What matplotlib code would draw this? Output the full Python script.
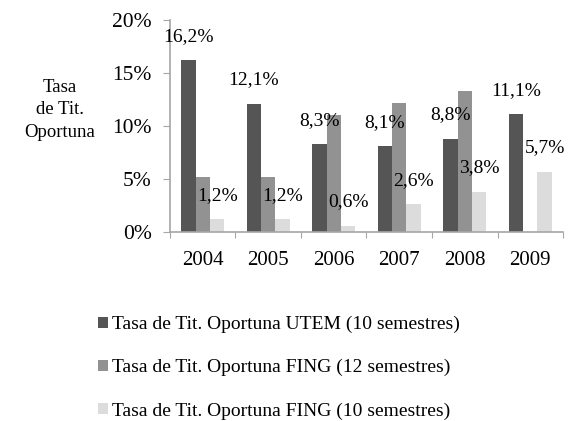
import matplotlib.pyplot as plt
import numpy as np
from matplotlib.ticker import FixedLocator, NullFormatter

years = ["2004", "2005", "2006", "2007", "2008", "2009"]
utem_10 = [16.2, 12.1, 8.3, 8.1, 8.8, 11.1]
fing_12 = [5.2, 5.2, 11.0, 12.2, 13.3, 0.0]
fing_10 = [1.2, 1.2, 0.6, 2.6, 3.8, 5.7]

series_labels = [
    "Tasa de Tit. Oportuna UTEM (10 semestres)",
    "Tasa de Tit. Oportuna FING (12 semestres)",
    "Tasa de Tit. Oportuna FING (10 semestres)",
]
COLORS = ["#555555", "#929292", "#dcdcdc"]
AXIS_COLOR = "#a6a6a6"

plt.rcParams["font.family"] = ["Liberation Serif", "DejaVu Serif"]

fig = plt.figure(figsize=(5.71, 4.21), dpi=100)
ax = fig.add_axes([0.2977, 0.449, 0.6883, 0.5036])

x = np.arange(len(years))
width = 0.22
series = [utem_10, fing_12, fing_10]
bars = []
for i, (vals, color, label) in enumerate(zip(series, COLORS, series_labels)):
    b = ax.bar(x + (i - 1) * width, vals, width, color=color, label=label, linewidth=0)
    bars.append(b)

# only UTEM and FING 10-semester values are labelled
for idx in (0, 2):
    for rect, val in zip(bars[idx], series[idx]):
        ax.annotate(
            f"{val:.1f}%".replace(".", ","),
            (rect.get_x() + rect.get_width() / 2, rect.get_height()),
            xytext=(0, 17),
            textcoords="offset points",
            ha="center",
            va="center",
            fontsize=14,
        )

ax.set_xlim(-0.5, len(years) - 0.5)
ax.set_ylim(0, 20)
ax.set_yticks([0, 5, 10, 15, 20], labels=[f"{v}%" for v in (0, 5, 10, 15, 20)])

ax.xaxis.set_major_locator(FixedLocator(np.arange(len(years) + 1) - 0.5))
ax.xaxis.set_major_formatter(NullFormatter())
ax.set_xticks(x, labels=years, minor=True)
ax.tick_params(axis="x", which="minor", length=0, pad=14, labelsize=15)
ax.tick_params(axis="x", which="major", length=4, color=AXIS_COLOR)
ax.tick_params(axis="y", length=5, color=AXIS_COLOR, pad=8, labelsize=15.5)

for side in ("top", "right"):
    ax.spines[side].set_visible(False)
for side in ("left", "bottom"):
    ax.spines[side].set_color(AXIS_COLOR)
    ax.spines[side].set_linewidth(1.2)

fig.text(0.105, 0.739, "Tasa\nde Tit.\nOportuna", ha="center", va="center",
         fontsize=13.5, linespacing=1.4)

fig.legend(
    loc="upper left",
    bbox_to_anchor=(0.172, 0.25),
    frameon=False,
    fontsize=14,
    handlelength=0.5,
    handleheight=0.5,
    handletextpad=0.2,
    labelspacing=1.34,
    borderaxespad=0,
    borderpad=0,
)

fig.savefig("out.png", dpi=100)
